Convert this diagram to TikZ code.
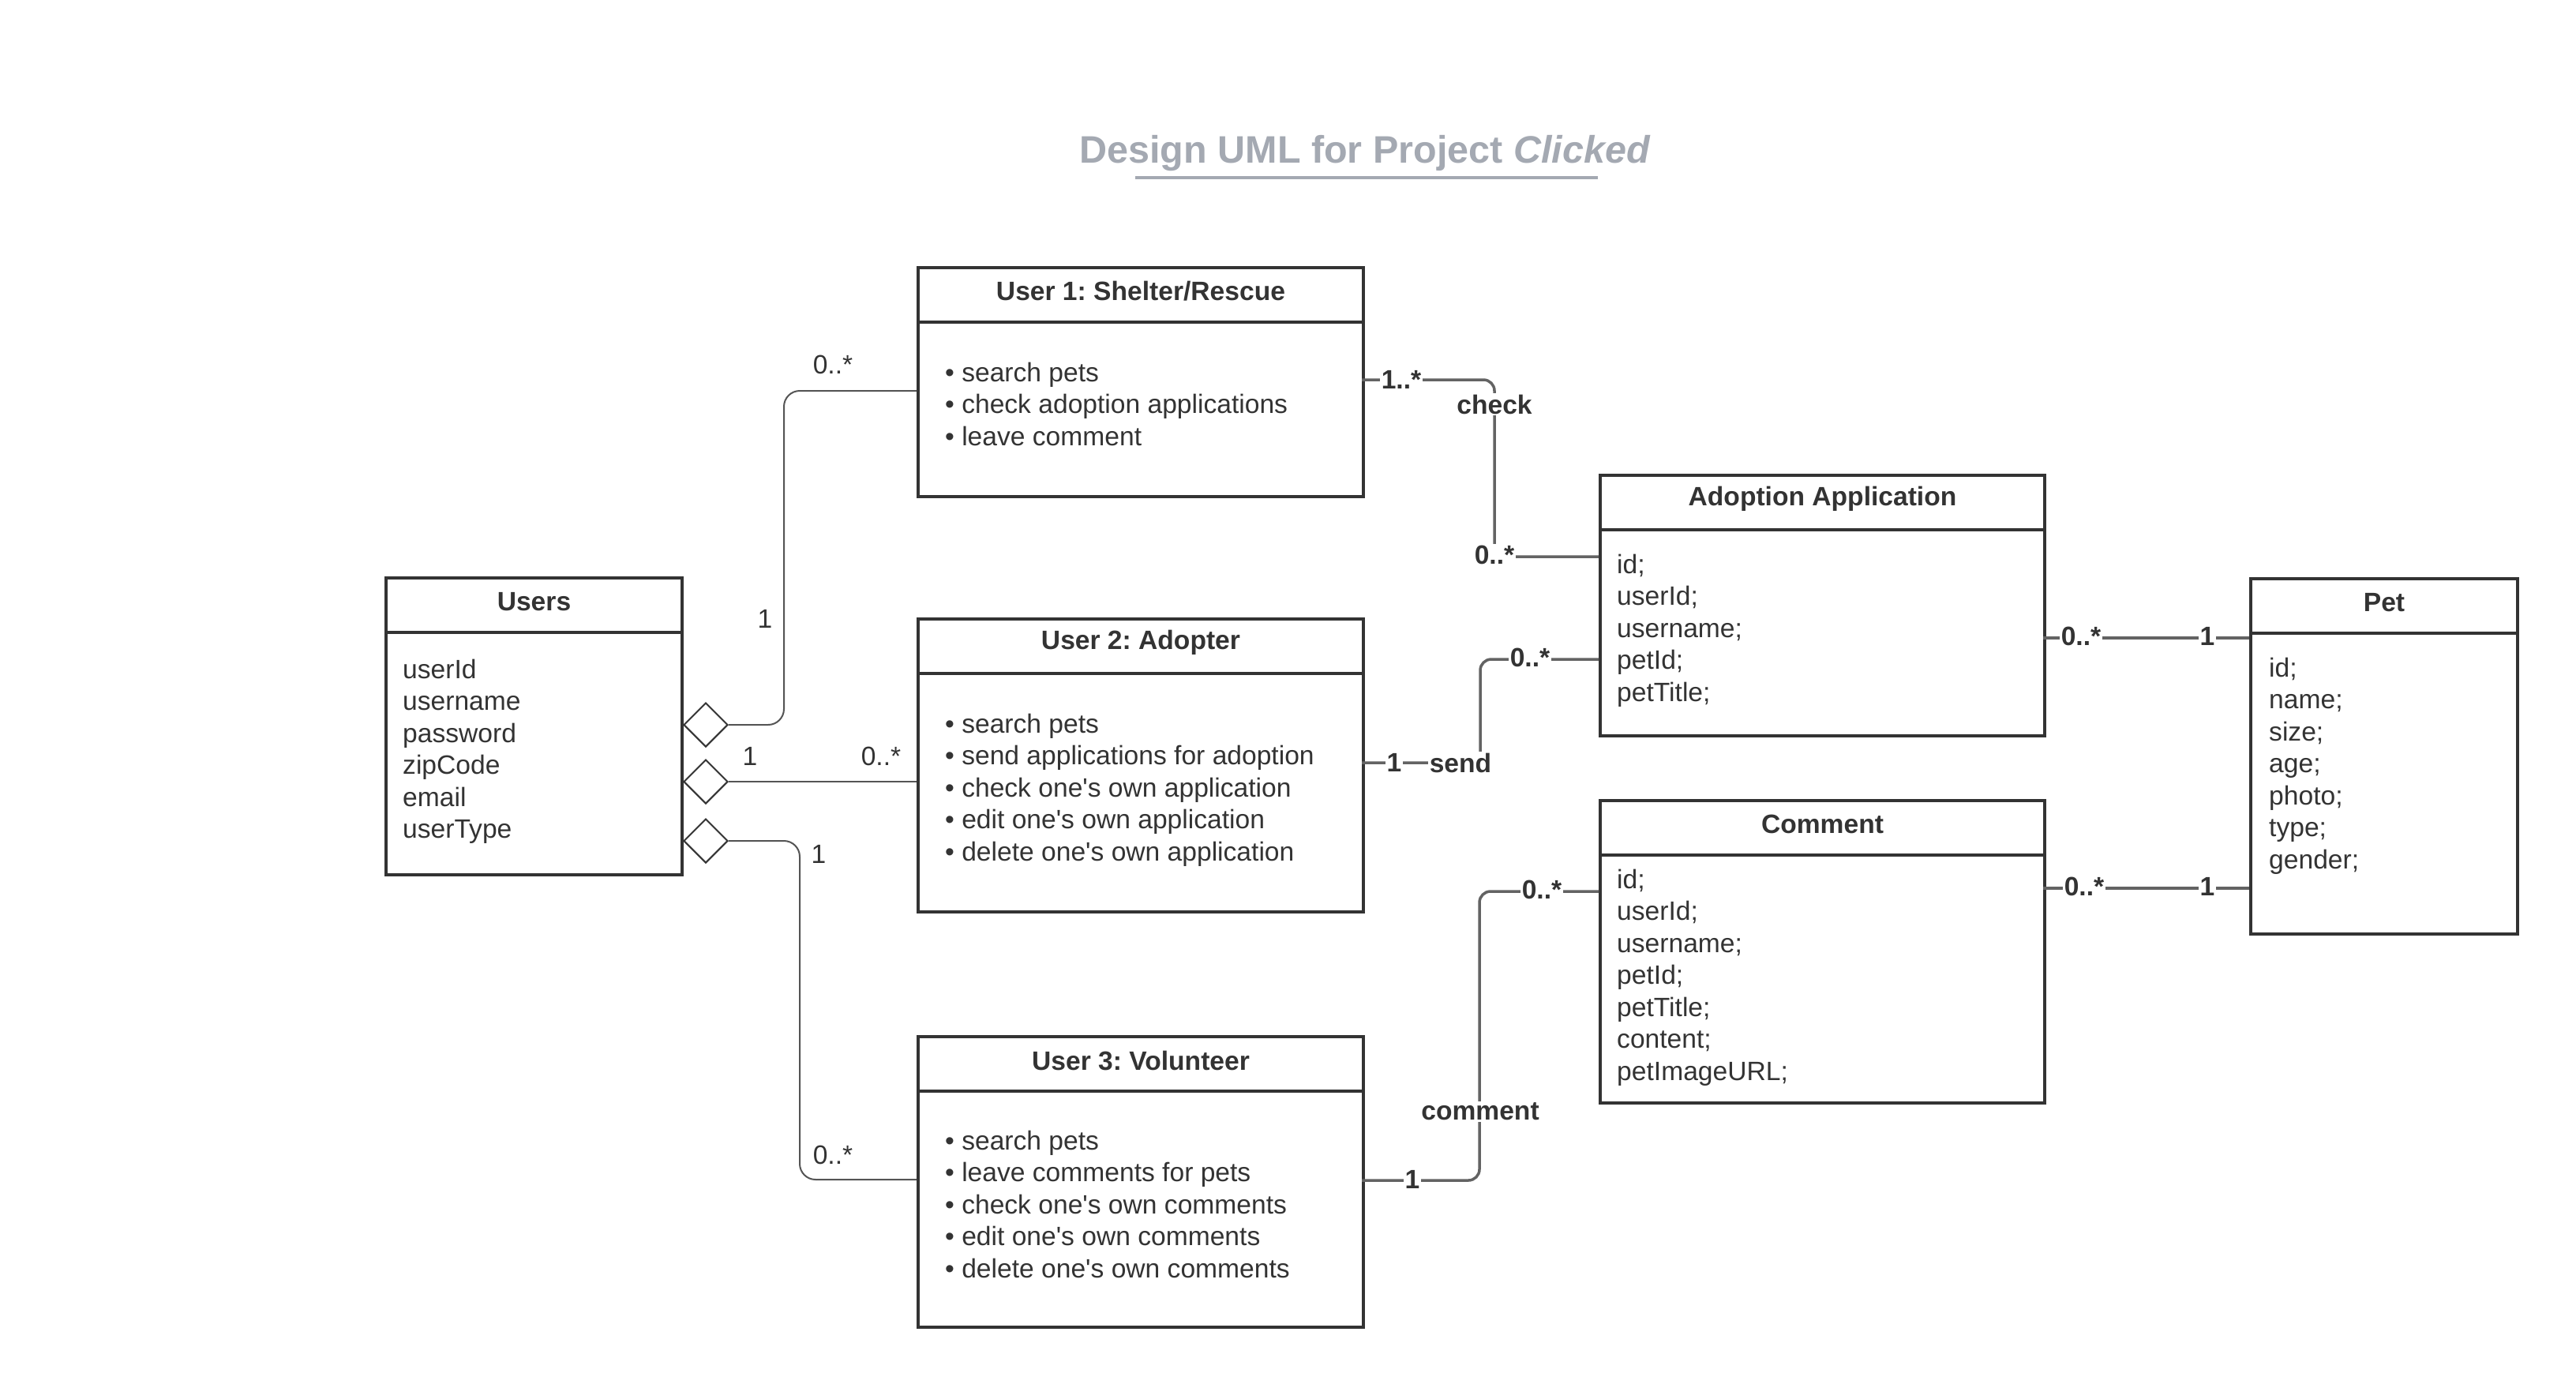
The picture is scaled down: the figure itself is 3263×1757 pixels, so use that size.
\documentclass[tikz,border=0pt]{standalone}
\usepackage{fontspec}
\setmainfont{Liberation Sans}[Ligatures=TeXOff]
\usetikzlibrary{shapes.geometric}
\frenchspacing
\definecolor{ink}{HTML}{333333}
\definecolor{titlegray}{HTML}{A4A9B2}
\definecolor{agggray}{HTML}{555555}
\definecolor{assocgray}{HTML}{636363}
\newcommand\umlclass[6]{% name, x, y, w, h, title
  \node[classbox, minimum width=#4pt, minimum height=#5pt] (#1) at (#2,#3) {};
  \draw[boxline] ([yshift=-71pt]#1.north west) -- ([yshift=-71pt]#1.north east);
  \node[classtitle] (#1-t) at ([yshift=-32pt]#1.north) {#6};
}
\newcommand\umllines[4]{% prefix, x, first baseline, list
  \foreach \s [count=\i] in {#4} \node[attr] (#1-\i) at (#2,{#3+40.5*(\i-1)}) {\s};
}
\begin{document}
\begin{tikzpicture}[x=1pt,y=-1pt,
  body/.style={font=\fontsize{33.6}{40.5}\selectfont},
  classbox/.style={draw=ink, line width=4pt, rectangle, anchor=north west, inner sep=0, fill=white},
  boxline/.style={draw=ink, line width=4pt},
  classtitle/.style={body, font=\fontsize{33.6}{40.5}\selectfont\bfseries, text=ink},
  attr/.style={body, text=ink, anchor=base west, inner sep=0},
  agg/.style={draw=agggray, line width=2pt, rounded corners=20pt},
  assoc/.style={draw=assocgray, line width=3.5pt, rounded corners=14pt},
  aggdia/.style={diamond, draw=ink, line width=2pt, fill=white, minimum width=56pt, minimum height=56pt, inner sep=0, aspect=1},
  llab/.style={body, text=ink, inner sep=1pt},
  rlab/.style={font=\fontsize{33.6}{40.5}\selectfont\bfseries, text=ink, fill=white, inner sep=2pt}
]
\useasboundingbox (0,0) rectangle (3263,1757);
\fill[white] (0,0) rectangle (3263,1757);

% title
\node[font=\fontsize{48.5}{58}\selectfont\bfseries, text=titlegray, anchor=base] (title) at (1729,206) {Design UML for Project \textit{Clicked}};
\draw[titlegray, line width=3.5pt] (1438,225) -- (2024,225);

% classes
\umlclass{users}{487}{730}{375}{376}{Users}
\umllines{ua}{510}{859}{userId,username,password,zipCode,email,userType}

\umlclass{u1}{1161}{337}{564}{290}{User 1: Shelter/Rescue}
\umllines{u1a}{1197}{483}{• search pets,• check adoption applications,• leave comment}

\umlclass{u2}{1161}{782}{564}{371}{User 2: Adopter}
\umllines{u2a}{1197}{928}{• search pets,• send applications for adoption,• check one's own application,• edit one's own application,• delete one's own application}

\umlclass{u3}{1161}{1311}{564}{368}{User 3: Volunteer}
\umllines{u3a}{1197}{1456}{• search pets,• leave comments for pets,• check one's own comments,• edit one's own comments,• delete one's own comments}

\umlclass{adopt}{2025}{600}{563}{330}{Adoption Application}
\umllines{ada}{2048}{726}{id;,userId;,username;,petId;,petTitle;}

\umlclass{comm}{2025}{1012}{563}{383}{Comment}
\umllines{ca}{2048}{1125}{id;,userId;,username;,petId;,petTitle;,content;,petImageURL;}

\umlclass{pet}{2849}{731}{338}{450}{Pet}
\umllines{pa}{2874}{857}{id;,name;,size;,age;,photo;,type;,gender;}

% aggregation diamonds
\node[aggdia] (d1) at (894,918) {};
\node[aggdia] (d2) at (894,990) {};
\node[aggdia] (d3) at (894,1065) {};

% connector end points
\coordinate (u1in) at (1161,495);
\coordinate (u2in) at (1161,990);
\coordinate (u3in) at (1161,1494);
\coordinate (u1out) at (1725,481);
\coordinate (u2out) at (1725,966);
\coordinate (u3out) at (1725,1495);
\coordinate (adin1) at (2025,705);
\coordinate (adin2) at (2025,835);
\coordinate (cin) at (2025,1129);
\coordinate (adout) at (2588,808);
\coordinate (cout) at (2588,1125);
\coordinate (pin1) at (2849,808);
\coordinate (pin2) at (2849,1125);

% aggregation connectors
\draw[agg] (d1.east) -- (993,918) -- (993,495) -- (u1in);
\draw[agg] (d2.east) -- (u2in);
\draw[agg] (d3.east) -- (1013,1065) -- (1013,1494) -- (u3in);
\node[llab] (l1a) at (969,784) {1};
\node[llab] (l1b) at (1055,462) {0..*};
\node[llab] (l2a) at (950,958) {1};
\node[llab] (l2b) at (1116,958) {0..*};
\node[llab] (l3a) at (1037,1082) {1};
\node[llab] (l3b) at (1055,1463) {0..*};

% association connectors
\draw[assoc] (u1out) -- (1893,481) -- (1893,705) -- (adin1);
\draw[assoc] (u2out) -- (1875,966) -- (1875,835) -- (adin2);
\draw[assoc] (u3out) -- (1874,1495) -- (1874,1129) -- (cin);
\draw[assoc] (adout) -- (pin1);
\draw[assoc] (cout) -- (pin2);

\node[rlab] (c1) at (1775,481) {1..*};
\node[rlab] (c2) at (1893,512) {check};
\node[rlab] (c3) at (1893,703) {0..*};
\node[rlab] (s1) at (1766,966) {1};
\node[rlab] (s2) at (1850,966) {send};
\node[rlab] (s3) at (1938,833) {0..*};
\node[rlab] (m1) at (1789,1494) {1};
\node[rlab] (m2) at (1875,1408) {comment};
\node[rlab] (m3) at (1953,1127) {0..*};
\node[rlab] (p1) at (2636,806) {0..*};
\node[rlab] (p2) at (2796,806) {1};
\node[rlab] (p3) at (2640,1123) {0..*};
\node[rlab] (p4) at (2796,1123) {1};
\end{tikzpicture}
\end{document}
